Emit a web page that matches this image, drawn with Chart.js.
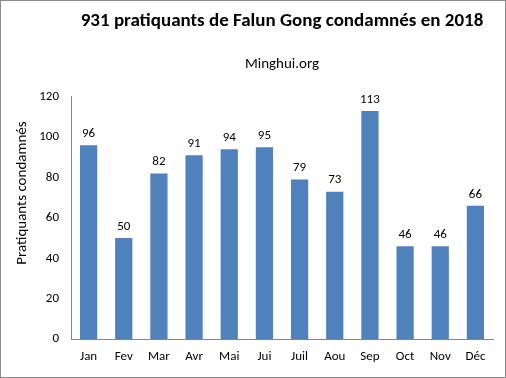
<!DOCTYPE html>
<html>
<head>
<meta charset="utf-8">
<script src="https://cdn.jsdelivr.net/npm/chart.js@4.4.1/dist/chart.umd.min.js"></script>
<style>
  html, body { margin: 0; padding: 0; background: #fff; }
  #wrap { width: 506px; height: 378px; box-sizing: border-box; border: 1px solid #8c8c8c; }
  canvas { display: block; }
</style>
</head>
<body>
<div id="wrap"><canvas id="chart" width="504" height="376"></canvas></div>
<script>
// data
const months = ['Jan', 'Fev', 'Mar', 'Avr', 'Mai', 'Jui', 'Juil', 'Aou', 'Sep', 'Oct', 'Nov', 'Déc'];
const convicted = [96, 50, 82, 91, 94, 95, 79, 73, 113, 46, 46, 66];
const yTicks = [0, 20, 40, 60, 80, 100, 120];
const yTitle = 'Pratiquants condamnés';

const font = "Calibri, Carlito, 'Open Sans', sans-serif";
const barColor = '#4f81bd';

// value labels above each bar + y axis title (sits a bit above the axis middle)
const valueLabels = {
    id: 'valueLabels',
    afterDatasetsDraw: (chart) => {
        const ctx = chart.ctx;
        const meta = chart.getDatasetMeta(0);
        ctx.save();
        ctx.font = '13px ' + font;
        ctx.fillStyle = '#000';
        ctx.textAlign = 'center';
        ctx.textBaseline = 'bottom';
        meta.data.forEach((bar, i) => {
            ctx.fillText(convicted[i], bar.x, bar.y - 5);
        });
        ctx.font = '15px ' + font;
        ctx.textBaseline = 'middle';
        ctx.translate(21, 192);
        ctx.rotate(-Math.PI / 2);
        ctx.fillText(yTitle, 0, 0);
        ctx.restore();
    }
};

new Chart(document.getElementById('chart'), {
    type: 'bar',
    data: {
        labels: months,
        datasets: [{
            data: convicted,
            backgroundColor: barColor,
            categoryPercentage: 1,
            barPercentage: 0.49
        }]
    },
    options: {
        responsive: false,
        animation: false,
        layout: { padding: { left: 13, right: 12, top: 0, bottom: 0 } },
        plugins: {
            legend: { display: false },
            tooltip: { enabled: false },
            title: {
                display: true,
                fullSize: false,
                text: '931 pratiquants de Falun Gong condamnés en 2018',
                color: '#000',
                font: { family: font, size: 19, weight: 'bold' },
                padding: { top: 9, bottom: 22 }
            },
            subtitle: {
                display: true,
                fullSize: false,
                text: 'Minghui.org',
                color: '#000',
                font: { family: font, size: 15 },
                padding: { top: 0, bottom: 24 }
            }
        },
        scales: {
            x: {
                grid: { display: false, drawTicks: false },
                border: { color: '#868686' },
                ticks: { color: '#000', font: { family: font, size: 13 }, padding: 10 },
                afterFit: (scale) => { scale.height = 38; }
            },
            y: {
                min: 0,
                max: 120,
                afterBuildTicks: (scale) => { scale.ticks = yTicks.map(v => ({ value: v })); },
                grid: { display: false, drawTicks: false },
                border: { color: '#868686' },
                ticks: { color: '#000', font: { family: font, size: 13 }, padding: 12 },
                afterFit: (scale) => { scale.width = 57; }
            }
        }
    },
    plugins: [valueLabels]
});
</script>
</body>
</html>
